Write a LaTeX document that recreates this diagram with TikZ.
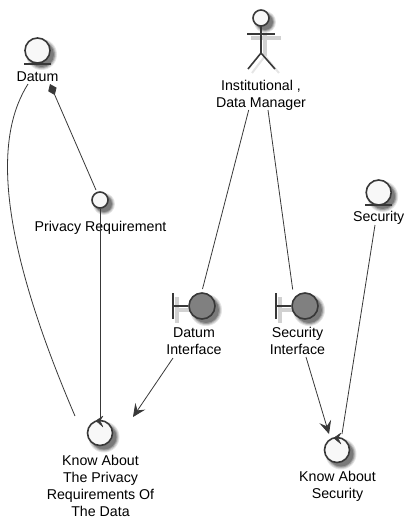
\documentclass[tikz,border=0pt]{standalone}
\usepackage{fontspec}
\setmainfont{Liberation Sans}
\usetikzlibrary{arrows.meta}
\definecolor{ink}{HTML}{383838}
\definecolor{pale}{HTML}{F8F8F8}
\definecolor{midgray}{HTML}{808080}
\tikzset{
  sh/.style={circle,inner sep=0pt,draw=none,fill=black!#1},
  lbl/.style={inner sep=0pt,align=center,text=black,font=\fontsize{14.2}{17}\selectfont},
  ball/.style={circle,inner sep=0pt,draw=ink,line width=1.6pt,fill=pale},
  entitycirc/.style={ball,minimum size=25pt},
  ctrlcirc/.style={ball,minimum size=25pt},
  ifacecirc/.style={ball,minimum size=16pt},
  boundcirc/.style={ball,minimum size=26pt,fill=midgray},
  glyph/.style={draw=ink,line width=1.6pt},
  glyphshadow/.style={draw=black!18,line width=4pt},
  link/.style={draw=ink,line width=.8pt},
  arrowed/.style={link,-{Stealth[length=13pt,width=12pt,inset=5pt]}},
  composed/.style={link,-{Diamond[length=12pt,width=9pt,fill=ink]}},
  turn/.style={fill=ink,draw=ink,line width=.4pt,line join=round}
}
\newcommand{\softdisc}[3]{%
  \node[sh=10,minimum size=#3+6pt] at (#1+4,#2+4) {};
  \node[sh=22,minimum size=#3+4pt] at (#1+4,#2+4) {};
  \node[sh=38,minimum size=#3+2pt] at (#1+4,#2+4) {};
  \node[sh=52,minimum size=#3] at (#1+4,#2+4) {};
}
\begin{document}
\begin{tikzpicture}[x=1pt,y=-1pt]
\useasboundingbox (0,0) rectangle (414,528);
% shadows
\draw[glyphshadow] (251,38) -- (281,38);
\draw[glyphshadow] (265,26) -- (265,56);
\draw[draw=black!10,line width=2pt] (265,56) -- (252,73);
\draw[draw=black!10,line width=2pt] (265,56) -- (279,73);
\softdisc{261}{18}{16pt}
\softdisc{37.5}{50.5}{25pt}
\softdisc{100}{200}{16pt}
\softdisc{378.7}{192.5}{25pt}
\softdisc{202}{306}{26pt}
\softdisc{305}{306}{26pt}
\softdisc{100}{433}{25pt}
\softdisc{337}{450}{25pt}
% entities
\node[entitycirc] (datum) at (37.5,50.5) {};
\draw[glyph] (24,64) -- (51,64);
\node[lbl] (datumL) at (37.5,77) {Datum};
\node[ifacecirc] (privacy) at (100,200) {};
\node[lbl] (privacyL) at (100.5,228) {Privacy Requirement};
\node[ifacecirc] (actorHead) at (261,18) {};
\draw[glyph] (261,26) -- (261,53);
\draw[glyph] (247,34) -- (275,34);
\draw[glyph] (248,69) -- (261,53) -- (275,69);
\node[lbl] (actorL) at (261,95) {Institutional ,\\Data Manager};
\node[entitycirc] (security) at (378.7,192.5) {};
\draw[glyph] (365,205) -- (392,205);
\node[lbl] (securityL) at (378.7,218) {Security};
% boundaries
\draw[glyphshadow] (177,297) -- (177,323);
\draw[glyphshadow] (177,310) -- (193,310);
\draw[glyphshadow] (280,297) -- (280,323);
\draw[glyphshadow] (280,310) -- (296,310);
\node[boundcirc] (dif) at (202,306) {};
\draw[glyph] (173,293) -- (173,319);
\draw[glyph] (173,306) -- (dif.west);
\node[lbl] (difL) at (194,341) {Datum\\Interface};
\node[boundcirc] (sif) at (305,306) {};
\draw[glyph] (276,293) -- (276,319);
\draw[glyph] (276,306) -- (sif.west);
\node[lbl] (sifL) at (297.5,341) {Security\\Interface};
% controls
\node[ctrlcirc] (kp) at (100,433) {};
\node[lbl] (kpL) at (100.5,486) {Know About\\The Privacy\\Requirements Of\\The Data};
\node[ctrlcirc] (ks) at (337,450) {};
\node[lbl] (ksL) at (337.5,486) {Know About\\Security};
\fill[turn] (96,420.7) -- (103,416) -- (100,420.7) -- (103,427) -- cycle;
\fill[turn] (333.7,438) -- (341,433) -- (338,438) -- (341,444) -- cycle;
% connector ends
\coordinate (datumA) at (28,84);
\coordinate (kpA) at (75,416);
\coordinate (datumTip) at (50,84);
\coordinate (privacyA) at (96,190);
\coordinate (kpTop) at (100,421);
\coordinate (actorA) at (248.7,110);
\coordinate (actorB) at (268,110);
\coordinate (difTop) at (202.5,289);
\coordinate (sifTop) at (292.7,289.5);
\coordinate (difOut) at (173,358);
\coordinate (kpIn) at (133,417);
\coordinate (sifOut) at (306,357);
\coordinate (ksIn) at (329,434);
\coordinate (securityOut) at (375,225);
\coordinate (ksTop) at (342,434);
% connectors
\draw[link] (datumA) .. controls (-1,130) and (-10,218) .. (kpA);
\draw[composed] (privacyA) -- (datumTip);
\draw[link] (privacy.south) -- (kpTop);
\draw[link] (actorA) -- (difTop);
\draw[link] (actorB) -- (sifTop);
\draw[arrowed] (difOut) -- (kpIn);
\draw[arrowed] (sifOut) -- (ksIn);
\draw[link] (securityOut) -- (ksTop);
\end{tikzpicture}
\end{document}
